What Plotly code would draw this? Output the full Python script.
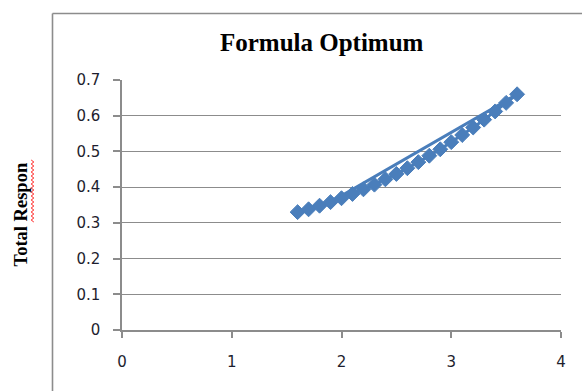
import numpy as np
import plotly.graph_objects as go

# ---- data (series order as plotted; the line jumps from 1.9 to 3.6) ----
x_values = [1.6, 1.7, 1.8, 1.9, 3.6, 3.5, 3.4, 3.3, 3.2, 3.1, 3.0,
            2.9, 2.8, 2.7, 2.6, 2.5, 2.4, 2.3, 2.2, 2.1, 2.0]
y_values = [0.330, 0.338, 0.348, 0.358, 0.660, 0.636, 0.612, 0.589, 0.567,
            0.546, 0.526, 0.506, 0.488, 0.470, 0.453, 0.437, 0.422, 0.407,
            0.394, 0.381, 0.369]
x_ticks = [0, 1, 2, 3, 4]
y_ticks = [0, 0.1, 0.2, 0.3, 0.4, 0.5, 0.6, 0.7]
title_text = "Formula Optimum"
y_title_text = "Total Respon"

W, H = 582, 391
L, R, T, B = 122, 21, 80, 61
PW, PH = W - L - R, H - T - B


def px_x(p):
    return (p - L) / PW


def px_y(p):
    return (H - B - p) / PH


blue = "#4A7EBB"
grey = "#8C8C8C"

fig = go.Figure()
fig.add_trace(go.Scatter(
    x=x_values, y=y_values, mode="lines+markers",
    line=dict(color=blue, width=3),
    marker=dict(symbol="diamond", size=11.5, color=blue,
                line=dict(color=blue, width=1)),
    showlegend=False, hoverinfo="skip",
))

# outer chart border (left and top visible)
shapes = [
    dict(type="line", xref="paper", yref="paper",
         x0=px_x(52.5), x1=px_x(52.5), y0=px_y(13.5), y1=px_y(400),
         line=dict(color=grey, width=1.6)),
    dict(type="line", xref="paper", yref="paper",
         x0=px_x(52.5), x1=px_x(600), y0=px_y(13.5), y1=px_y(13.5),
         line=dict(color=grey, width=1.6)),
]
# spell-check squiggle under "Respon"
ys = np.arange(160, 223, 2.0)
xs = [32.5 + (1.3 if i % 2 else -1.3) for i in range(len(ys))]
path = "M " + " L ".join(f"{px_x(a):.5f},{px_y(b):.5f}" for a, b in zip(xs, ys))
shapes.append(dict(type="path", xref="paper", yref="paper", path=path,
                   line=dict(color="#FF2020", width=1)))

fig.update_layout(
    width=W, height=H,
    margin=dict(l=L, r=R, t=T, b=B, pad=0),
    paper_bgcolor="white", plot_bgcolor="white",
    title=dict(text=f"<b>{title_text}</b>", x=321.7 / W, y=1 - 42.5 / H,
               xanchor="center", yanchor="middle", xref="container", yref="container",
               font=dict(family="Liberation Serif", size=25, color="black")),
    shapes=shapes,
    annotations=[dict(text=f"<b>{y_title_text}</b>", textangle=-90,
                      xref="paper", yref="paper", x=px_x(20.5), y=px_y(215),
                      xanchor="center", yanchor="middle", showarrow=False,
                      font=dict(family="Liberation Serif", size=18.5, color="black"))],
    font=dict(family="DejaVu Sans", size=15, color="#1E1E2E"),
)
fig.update_xaxes(range=[0, 4], tickvals=x_ticks, showgrid=False, zeroline=False,
                 showline=True, linecolor=grey, linewidth=1.5,
                 ticks="outside", ticklen=6, tickcolor=grey, tickwidth=1.5,
                 ticklabelstandoff=11, fixedrange=True)
fig.update_yaxes(range=[0, 0.7], tickvals=y_ticks, showgrid=True, gridcolor=grey,
                 gridwidth=1, zeroline=False, showline=True, linecolor=grey,
                 linewidth=1.5, ticks="outside", ticklen=7, tickcolor=grey,
                 tickwidth=1.5, ticklabelstandoff=10, fixedrange=True)

fig.write_html("out.html", config={"displayModeBar": False})
